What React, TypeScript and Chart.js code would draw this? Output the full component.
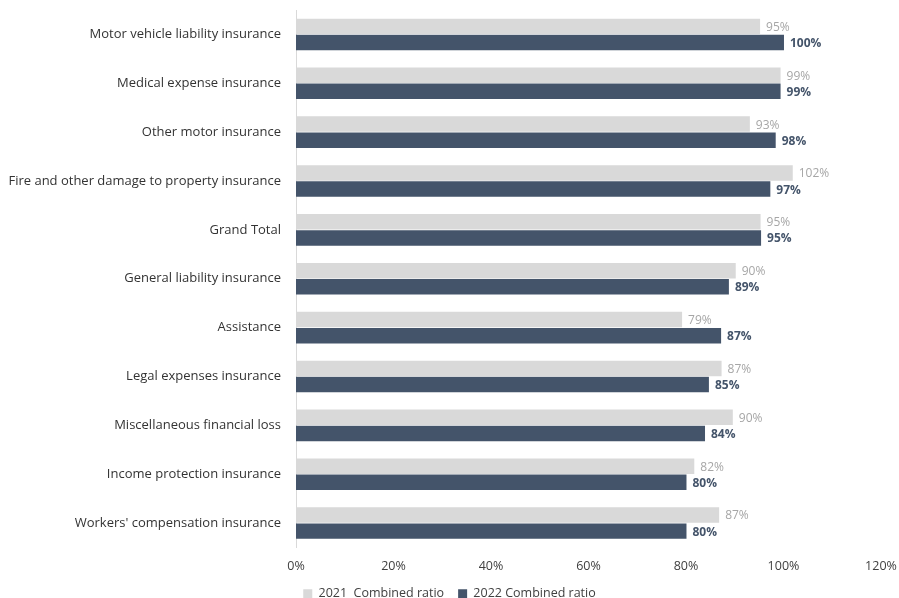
import React, { useEffect, useRef } from "react";
import { Chart, registerables } from "chart.js";

Chart.register(...registerables);

const categories = [
  "Motor vehicle liability insurance",
  "Medical expense insurance",
  "Other motor insurance",
  "Fire and other damage to property insurance",
  "Grand Total",
  "General liability insurance",
  "Assistance",
  "Legal expenses insurance",
  "Miscellaneous financial loss",
  "Income protection insurance",
  "Workers' compensation insurance",
];

const ratio2021 = [95.2, 99.4, 93.1, 101.9, 95.3, 90.2, 79.2, 87.3, 89.6, 81.7, 86.8];
const ratio2022 = [100.1, 99.4, 98.4, 97.3, 95.4, 88.8, 87.2, 84.7, 83.9, 80.1, 80.1];

const seriesNames = ["2021  Combined ratio", "2022 Combined ratio"];
const xTicks = [0, 20, 40, 60, 80, 100, 120];

const FONT = "'Open Sans', Lato, sans-serif";

const labelPlugin = {
  id: "barLabels",
  afterDatasetsDraw(chart: any) {
    const ctx = chart.ctx;
    ctx.save();
    chart.data.datasets.forEach((ds: any, di: number) => {
      const meta = chart.getDatasetMeta(di);
      meta.data.forEach((el: any, i: number) => {
        const v = ds.data[i];
        ctx.font = di === 0 ? `12px ${FONT}` : `bold 12px ${FONT}`;
        ctx.fillStyle = di === 0 ? "#a6a6a6" : "#44546a";
        ctx.textAlign = "left";
        ctx.textBaseline = "middle";
        ctx.fillText(`${Math.round(v)}%`, el.x + 6, el.y + 1);
      });
    });
    ctx.restore();
  },
};

export default function App() {
  const ref = useRef<HTMLCanvasElement | null>(null);
  useEffect(() => {
    if (!ref.current) return;
    const chart = new Chart(ref.current, {
      type: "bar",
      data: {
        labels: categories,
        datasets: [
          {
            label: seriesNames[0],
            data: ratio2021,
            backgroundColor: "#d9d9d9",
            categoryPercentage: 0.66,
            barPercentage: 0.96,
          },
          {
            label: seriesNames[1],
            data: ratio2022,
            backgroundColor: "#44546a",
            categoryPercentage: 0.66,
            barPercentage: 0.96,
          },
        ],
      },
      options: {
        indexAxis: "y",
        animation: false,
        responsive: false,
        maintainAspectRatio: false,
        layout: { padding: { top: 10, right: 0, left: 0, bottom: -12 } },
        plugins: {
          tooltip: { enabled: false },
          legend: {
            position: "bottom",
            labels: {
              boxWidth: 9,
              boxHeight: 9,
              padding: 14,
              color: "#404040",
              font: { family: FONT, size: 12.5 },
            },
          },
        },
        scales: {
          x: {
            min: 0,
            max: 120,
            afterBuildTicks(scale: any) {
              scale.ticks = xTicks.map((v) => ({ value: v }));
            },
            afterFit(scale: any) {
              scale.paddingRight = 18;
              scale.paddingLeft = 0;
              scale.height = 26;
            },
            ticks: {
              callback: (v: any) => `${v}%`,
              color: "#404040",
              font: { family: FONT, size: 12.5 },
              padding: 11,
              maxRotation: 0,
            },
            grid: { display: false, drawTicks: false },
            border: { display: false },
          },
          y: {
            afterFit(scale: any) {
              scale.width = 296;
              scale.paddingTop = 0;
              scale.paddingBottom = 0;
            },
            ticks: {
              color: "#333333",
              font: { family: FONT, size: 13 },
              padding: 7,
            },
            grid: { display: false },
            border: { display: true, color: "#d9d9d9", width: 1 },
          },
        },
      },
      plugins: [labelPlugin],
    });
    return () => chart.destroy();
  }, []);
  return (
    <div style={{ position: "fixed", left: 0, top: 0, width: 899, height: 598, background: "#fff" }}>
      <canvas ref={ref} width={899} height={598} />
    </div>
  );
}
